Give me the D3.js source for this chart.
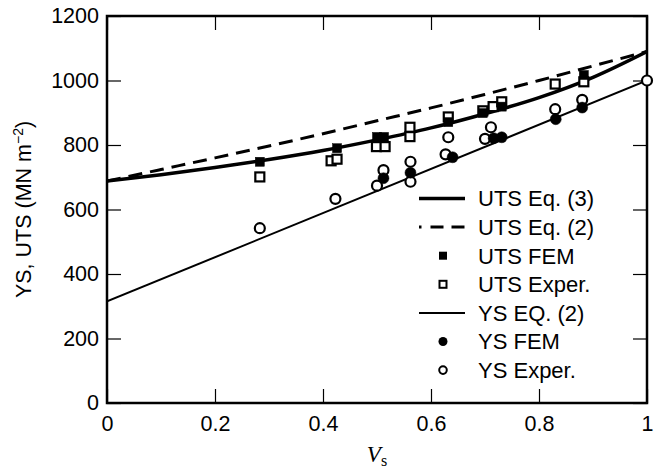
<!DOCTYPE html>
<html><head><meta charset="utf-8">
<script src="https://cdn.jsdelivr.net/npm/d3@7"></script>
<style>body{margin:0;background:#fff}svg{display:block}</style>
</head><body>
<svg id="c" width="661" height="468"></svg>
<script>
// ---- data ----
const xTicks = [0, 0.2, 0.4, 0.6, 0.8, 1];
const xTickLabels = ["0", "0.2", "0.4", "0.6", "0.8", "1"];
const yTicks = [0, 200, 400, 600, 800, 1000, 1200];

const curveX = [0, 0.1, 0.2, 0.3, 0.4, 0.5, 0.6, 0.7, 0.8, 0.9, 1.0];
const utsEq3 = [688, 708, 730, 755, 783, 816, 853, 897, 947, 1010, 1090];
const utsEq2 = [688, 724, 760, 797, 835, 875, 915, 957, 1000, 1045, 1090];

const ysEq2X = [0, 1];
const ysEq2 = [315, 1000];

const utsFemX = [0.283, 0.426, 0.500, 0.513, 0.632, 0.696, 0.731, 0.883];
const utsFemY = [748, 790, 825, 825, 871, 899, 919, 1017];

const utsExpX = [0.283, 0.415, 0.426, 0.499, 0.515, 0.561, 0.561, 0.632, 0.696, 0.715, 0.731, 0.830, 0.883];
const utsExpY = [701, 751, 756, 795, 795, 855, 826, 887, 906, 919, 934, 989, 996];

const ysFemX = [0.512, 0.562, 0.640, 0.716, 0.731, 0.831, 0.880];
const ysFemY = [697, 714, 762, 821, 824, 880, 916];

const ysExpX = [0.283, 0.423, 0.500, 0.512, 0.562, 0.562, 0.627, 0.632, 0.700, 0.711, 0.830, 0.880, 1.0];
const ysExpY = [542, 633, 674, 722, 748, 686, 771, 824, 819, 855, 911, 940, 1000];

const legendLabels = ["UTS Eq. (3)", "UTS Eq. (2)", "UTS FEM", "UTS Exper.", "YS EQ. (2)", "YS FEM", "YS Exper."];
const legendKinds = ["thick", "dash", "fsq", "osq", "thin", "fci", "oci"];

// ---- layout ----
const W = 661, H = 468;
const m = {l: 107, r: 14, t: 16, b: 65};
const svg = d3.select("#c");
const font = "'Liberation Sans', Arial, Helvetica, sans-serif";
const x = d3.scaleLinear().domain([0, 1]).range([m.l, W - m.r]);
const y = d3.scaleLinear().domain([0, 1200]).range([H - m.b, m.t]);

const tickLen = 14;
function styleAxis(g) {
  g.select(".domain").remove();
  g.selectAll(".tick line").attr("stroke", "#000").attr("stroke-width", 1.2);
  g.selectAll(".tick text").attr("fill", "#000").attr("font-family", font).attr("font-size", 21.5);
}
svg.append("g").attr("transform", `translate(0,${y(0)})`)
  .call(d3.axisBottom(x).tickValues(xTicks).tickFormat((d, i) => xTickLabels[i]).tickSizeInner(-tickLen).tickSizeOuter(0).tickPadding(13))
  .call(styleAxis);
svg.append("g").attr("transform", `translate(0,${y(1200)})`)
  .call(d3.axisTop(x).tickValues(xTicks).tickFormat("").tickSizeInner(-tickLen).tickSizeOuter(0))
  .call(styleAxis);
svg.append("g").attr("transform", `translate(${x(0)},0)`)
  .call(d3.axisLeft(y).tickValues(yTicks).tickFormat(d3.format("d")).tickSizeInner(-tickLen).tickSizeOuter(0).tickPadding(8))
  .call(styleAxis);
svg.append("g").attr("transform", `translate(${x(1)},0)`)
  .call(d3.axisRight(y).tickValues(yTicks).tickFormat("").tickSizeInner(-tickLen).tickSizeOuter(0))
  .call(styleAxis);

svg.append("rect").attr("x", x(0)).attr("y", y(1200)).attr("width", x(1) - x(0)).attr("height", y(0) - y(1200))
  .attr("fill", "none").attr("stroke", "#000").attr("stroke-width", 2.5);

// ---- lines ----
const line = d3.line().x(d => x(d[0])).y(d => y(d[1])).curve(d3.curveMonotoneX);
svg.append("clipPath").attr("id", "pc").append("rect")
  .attr("x", x(0)).attr("y", y(1200)).attr("width", x(1) - x(0)).attr("height", y(0) - y(1200));
const plot = svg.append("g").attr("clip-path", "url(#pc)");
plot.append("path").datum(d3.zip(curveX, utsEq2)).attr("d", line)
  .attr("fill", "none").attr("stroke", "#000").attr("stroke-width", 3).attr("stroke-dasharray", "14,8");
plot.append("path").datum(d3.zip(curveX, utsEq3)).attr("d", line)
  .attr("fill", "none").attr("stroke", "#000").attr("stroke-width", 3.5);
plot.append("path").datum(d3.zip(ysEq2X, ysEq2)).attr("d", line)
  .attr("fill", "none").attr("stroke", "#000").attr("stroke-width", 2);

// ---- markers ----
const sq = 9, r = 5;
function squares(xs, ys, filled) {
  svg.append("g").selectAll("rect").data(d3.zip(xs, ys)).join("rect")
    .attr("x", d => x(d[0]) - sq / 2).attr("y", d => y(d[1]) - sq / 2)
    .attr("width", sq).attr("height", sq)
    .attr("fill", filled ? "#000" : "#fff").attr("stroke", "#000").attr("stroke-width", filled ? 0.5 : 2.2);
}
function circles(xs, ys, filled) {
  svg.append("g").selectAll("circle").data(d3.zip(xs, ys)).join("circle")
    .attr("cx", d => x(d[0])).attr("cy", d => y(d[1])).attr("r", filled ? r + 0.5 : r)
    .attr("fill", filled ? "#000" : "#fff").attr("stroke", "#000").attr("stroke-width", filled ? 0.5 : 2.2);
}
squares(utsExpX, utsExpY, false);
circles(ysExpX, ysExpY, false);
squares(utsFemX, utsFemY, true);
circles(ysFemX, ysFemY, true);

// ---- legend ----
const lg = svg.append("g");
const ly0 = 198.5, ldy = 28.6, lx1 = 419, lx2 = 465, lmx = 443, ltx = 478;
legendLabels.forEach((lab, i) => {
  const yy = ly0 + i * ldy, k = legendKinds[i];
  if (k === "thick") lg.append("line").attr("x1", lx1).attr("x2", lx2).attr("y1", yy).attr("y2", yy).attr("stroke", "#000").attr("stroke-width", 3.5);
  if (k === "thin") lg.append("line").attr("x1", lx1).attr("x2", lx2).attr("y1", yy).attr("y2", yy).attr("stroke", "#000").attr("stroke-width", 2);
  if (k === "dash") lg.append("line").attr("x1", lx1).attr("x2", lx2).attr("y1", yy).attr("y2", yy).attr("stroke", "#000").attr("stroke-width", 3).attr("stroke-dasharray", "2.5,9,13,8,13");
  if (k === "fsq") lg.append("rect").attr("x", lmx - 4).attr("y", yy - 4).attr("width", 8).attr("height", 8).attr("fill", "#000");
  if (k === "osq") lg.append("rect").attr("x", lmx - 3.5).attr("y", yy - 3.5).attr("width", 7).attr("height", 7).attr("fill", "#fff").attr("stroke", "#000").attr("stroke-width", 2);
  if (k === "fci") lg.append("circle").attr("cx", lmx).attr("cy", yy).attr("r", 4.5).attr("fill", "#000");
  if (k === "oci") lg.append("circle").attr("cx", lmx).attr("cy", yy).attr("r", 3.8).attr("fill", "#fff").attr("stroke", "#000").attr("stroke-width", 2);
  lg.append("text").attr("x", ltx).attr("y", yy).attr("dy", "0.36em").attr("font-family", font).attr("font-size", 22).attr("fill", "#000").text(lab);
});

// ---- axis titles ----
const yt = svg.append("text").attr("transform", `translate(31,${(y(0) + y(1200)) / 2}) rotate(-90)`)
  .attr("text-anchor", "middle").attr("font-family", font).attr("font-size", 21.5).attr("fill", "#000");
yt.append("tspan").text("YS, UTS (MN m");
yt.append("tspan").attr("font-size", 14).attr("dy", "-0.6em").text("\u22122");
yt.append("tspan").attr("dy", "0.4em").text(")");

const xt = svg.append("text").attr("x", (x(0) + x(1)) / 2).attr("y", 462).attr("text-anchor", "middle")
  .attr("font-family", "'Liberation Serif', 'DejaVu Serif', serif").attr("font-size", 23).attr("fill", "#000");
xt.append("tspan").attr("font-style", "italic").text("V");
xt.append("tspan").attr("font-size", 16).attr("dy", "0.25em").text("s");
</script>
</body></html>
